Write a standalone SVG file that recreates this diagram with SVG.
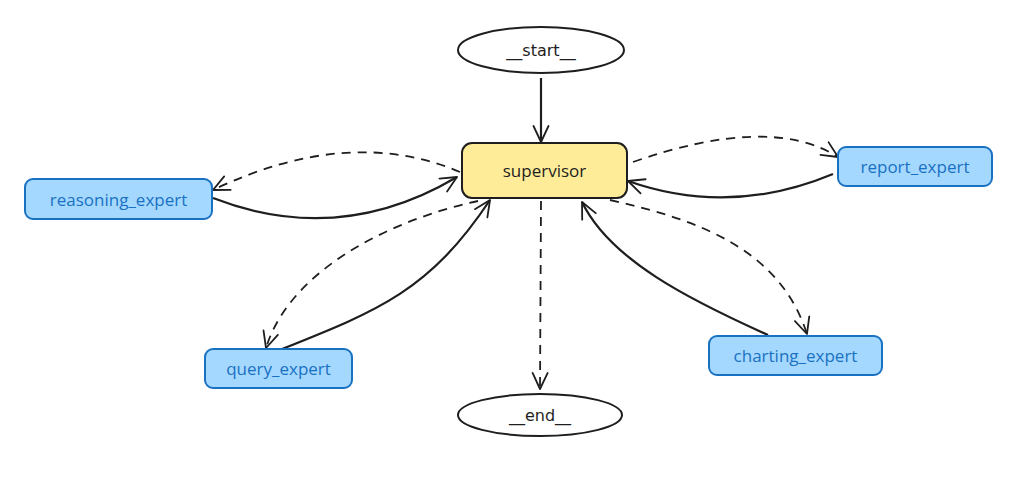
<svg xmlns="http://www.w3.org/2000/svg" width="1024" height="499" viewBox="0 0 1024 499">
<style>
.bg{fill:#ffffff}
.term{fill:#ffffff;stroke:#1e1e1e;stroke-width:2}
.termtxt{font-family:"DejaVu Sans",sans-serif;font-size:16px;fill:#1e1e1e;text-anchor:middle;dominant-baseline:central}
.sup{fill:#ffec99;stroke:#1e1e1e;stroke-width:2}
.suptxt{font-family:"Open Sans","Noto Sans",sans-serif;font-size:17px;fill:#1e1e1e;text-anchor:middle;dominant-baseline:central}
.exp{fill:#a5d8ff;stroke:#1971c2;stroke-width:2}
.exptxt{font-family:"Open Sans","Noto Sans",sans-serif;font-size:17px;fill:#1971c2;text-anchor:middle;dominant-baseline:central}
.solid{fill:none;stroke:#1e1e1e;stroke-width:2.2;marker-end:url(#arr)}
.dash{fill:none;stroke:#1e1e1e;stroke-width:1.8;stroke-dasharray:9 7;marker-end:url(#arr)}
</style>
<defs>
<marker id="arr" viewBox="0 0 18 18" refX="17" refY="9" markerWidth="18" markerHeight="18" markerUnits="userSpaceOnUse" orient="auto">
<path d="M1,1.5 L17,9 L1,16.5" fill="none" stroke="#1e1e1e" stroke-width="1.8" stroke-linecap="round" stroke-linejoin="round"/>
</marker>
</defs>
<rect class="bg" x="0" y="0" width="1024" height="499"/>
<g id="edges">
<path class="solid" d="M541 78 L541 142"/>
<path class="dash" d="M541 201 L540 389"/>
<path class="dash" d="M460 172 Q349 125 213 190"/>
<path class="solid" d="M213 198 Q339 247 457 177"/>
<path class="dash" d="M633 162 Q770 114 838 157"/>
<path class="solid" d="M833 174 Q730 217 628 181"/>
<path class="dash" d="M478 201 C390 220 290 270 266 348"/>
<path class="solid" d="M282 349 C380 310 430 290 490 200"/>
<path class="dash" d="M610 200 C700 220 780 250 807 334"/>
<path class="solid" d="M768 335 C690 300 610 260 582 202"/>
</g>
<g id="start">
<ellipse class="term" cx="541" cy="50" rx="83" ry="23"/>
<text class="termtxt" x="541" y="50">__start__</text>
</g>
<g id="supervisor">
<rect class="sup" x="462" y="143" width="165" height="55" rx="10"/>
<text class="suptxt" x="544.5" y="170.5">supervisor</text>
</g>
<g id="reasoning_expert">
<rect class="exp" x="25" y="179" width="187" height="40" rx="8"/>
<text class="exptxt" x="118.5" y="199">reasoning_expert</text>
</g>
<g id="report_expert">
<rect class="exp" x="838" y="147" width="154" height="39" rx="8"/>
<text class="exptxt" x="915" y="166.5">report_expert</text>
</g>
<g id="query_expert">
<rect class="exp" x="205" y="349" width="147" height="39" rx="8"/>
<text class="exptxt" x="278.5" y="368.5">query_expert</text>
</g>
<g id="charting_expert">
<rect class="exp" x="709" y="336" width="173" height="39" rx="8"/>
<text class="exptxt" x="795.5" y="355.5">charting_expert</text>
</g>
<g id="end">
<ellipse class="term" cx="540" cy="415" rx="82" ry="21"/>
<text class="termtxt" x="540" y="415">__end__</text>
</g>
</svg>
